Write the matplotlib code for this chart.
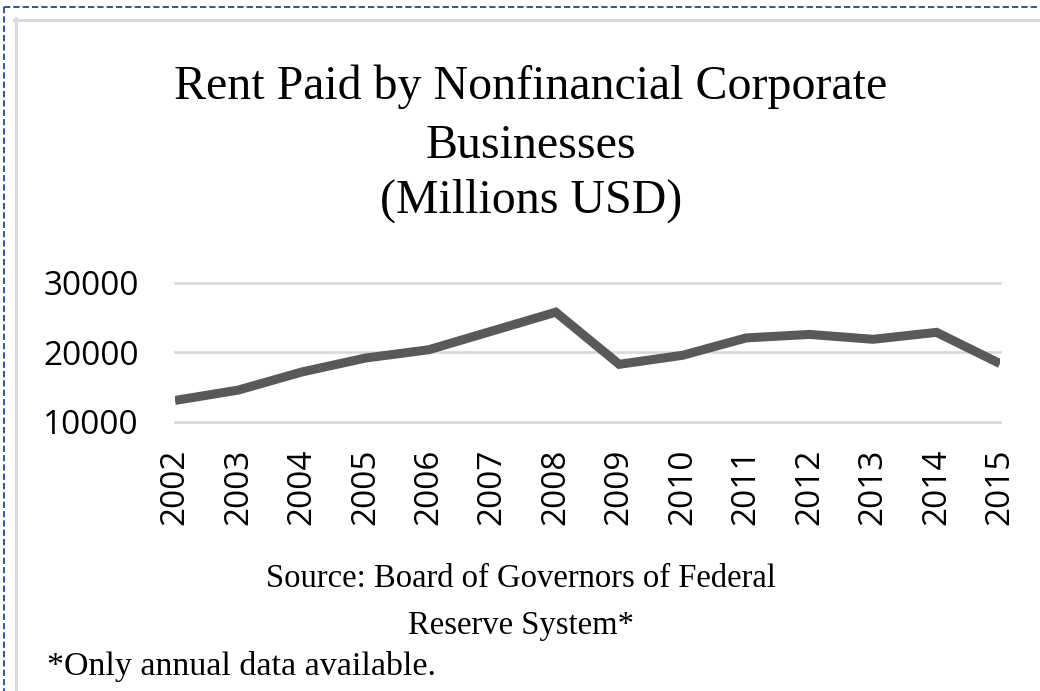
import matplotlib
matplotlib.use('Agg')
import matplotlib.pyplot as plt
from matplotlib.lines import Line2D

# data
years = [2002, 2003, 2004, 2005, 2006, 2007, 2008,
         2009, 2010, 2011, 2012, 2013, 2014, 2015]
rent = [13100, 14600, 17200, 19200, 20400, 23100, 25800,
        18300, 19600, 22100, 22600, 21900, 22900, 18400]
yticks = [10000, 20000, 30000]

title_lines = ['Rent Paid by Nonfinancial Corporate', 'Businesses', '(Millions USD)']
source_lines = ['Source: Board of Governors of Federal', 'Reserve System*']
footnote = '*Only annual data available.'

W, H = 1040, 691
fig = plt.figure(figsize=(W / 100, H / 100), dpi=100)
fig.patch.set_facecolor('white')

def fx(px):
    return px / W

def fy(py):
    return 1 - py / H

# outer dashed border (blue) and inner chart-area frame (grey)
for xs, ys in [([3.5, 3.5], [6.5, H]), ([3.5, W], [6.5, 6.5])]:
    fig.add_artist(Line2D([fx(v) for v in xs], [fy(v) for v in ys],
                          transform=fig.transFigure, color='#2f5597',
                          lw=1.4, linestyle=(0, (3.2, 1.6))))
for xs, ys in [([15.5, 15.5], [18, H]), ([14, W], [19.5, 19.5])]:
    fig.add_artist(Line2D([fx(v) for v in xs], [fy(v) for v in ys],
                          transform=fig.transFigure, color='#d9d9d9', lw=2.2))

# plot area
x0, x1 = 175, 1000
y_top, y_bot = 283, 422
ax = fig.add_axes([fx(x0), fy(y_bot), fx(x1 - x0), (y_bot - y_top) / H])
ax.set_facecolor('none')
ax.plot(years, rent, color='#595959', lw=6.5, solid_capstyle='butt',
        solid_joinstyle='miter', zorder=3)
ax.set_xlim(years[0], years[-1])
ax.set_ylim(10000, 30000)
ax.set_yticks(yticks)
ax.set_yticklabels([str(v) for v in yticks])
ax.set_xticks(years)
ax.set_xticklabels([str(y) for y in years], rotation=90)
ax.grid(axis='y', color='#d9d9d9', lw=1.9)
ax.grid(axis='x', visible=False)
for gl in ax.get_ygridlines():
    gl.set_clip_on(False)
ax.set_axisbelow(True)
for s in ax.spines.values():
    s.set_visible(False)
ax.tick_params(axis='both', length=0, labelsize=24, colors='black')
ax.tick_params(axis='y', pad=26)
ax.tick_params(axis='x', pad=19)
for lab in ax.get_xticklabels() + ax.get_yticklabels():
    lab.set_family('Open Sans')

# title, three centred lines
serif = 'Liberation Serif'
for txt, base in zip(title_lines, [99, 158, 213]):
    fig.text(fx(531), fy(base), txt, ha='center', va='baseline',
             family=serif, fontsize=34.5, color='black')

# source lines and footnote
for txt, base in zip(source_lines, [587, 634]):
    fig.text(fx(521), fy(base), txt, ha='center', va='baseline',
             family=serif, fontsize=23.5, color='black')
fig.text(fx(47), fy(675), footnote, ha='left', va='baseline',
         family=serif, fontsize=24.5, color='black')

fig.savefig('out.png', dpi=100, facecolor='white')
